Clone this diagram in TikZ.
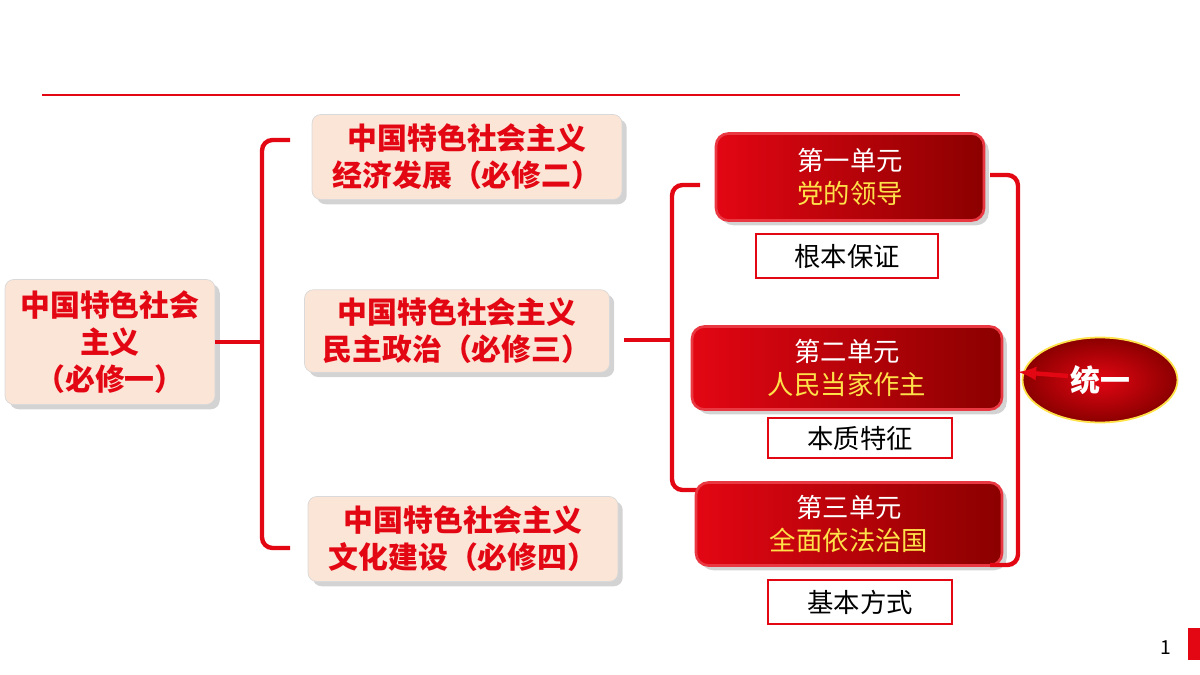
\documentclass[tikz,border=0pt]{standalone}
\usepackage{fontspec}
\setmainfont{Noto Sans CJK SC}
\usetikzlibrary{shadows,shapes.geometric}
\definecolor{peach}{HTML}{FBE5D6}
\definecolor{hired}{HTML}{E30613}
\definecolor{darkred}{HTML}{8B0000}
\definecolor{gold}{HTML}{FFE24A}
\tikzset{
  pinkbox/.style={draw=gray!30, fill=peach, rounded corners=5pt, drop shadow={opacity=.35}, text=hired, font=\bfseries\fontsize{17}{21}\selectfont, align=center},
  unitbox/.style={draw=hired!80, line width=1.5pt, left color=hired, right color=darkred, rounded corners=7pt, drop shadow={opacity=.35}, align=center, font=\fontsize{15}{19}\selectfont},
  tagbox/.style={draw=hired, line width=1pt, fill=white, font=\fontsize{15}{19}\selectfont, text=black},
  brace/.style={draw=hired, line width=2.5pt, rounded corners=6pt}
}
\begin{document}
\begin{tikzpicture}[x=0.02cm,y=-0.02cm]
\useasboundingbox (0,0) rectangle (1200,675);
\draw[hired, line width=1pt] (42,95) -- (960,95);
\fill[hired] (1188,628) rectangle (1200,660);
\node (page) at (1166,648) {\fontsize{11}{13}\selectfont 1};

\node[pinkbox, minimum width=4.2cm, minimum height=2.5cm] (mod1) at (110,342) {中国特色社会\\主义\\（必修一）};
\node[pinkbox, minimum width=6.2cm, minimum height=1.7cm] (mod2) at (467,157) {中国特色社会主义\\经济发展（必修二）};
\node[pinkbox, minimum width=6.1cm, minimum height=1.65cm] (mod3) at (457,331) {中国特色社会主义\\民主政治（必修三）};
\node[pinkbox, minimum width=6.2cm, minimum height=1.7cm] (mod4) at (463,539) {中国特色社会主义\\文化建设（必修四）};

\draw[brace] (290,140) -- (262,140) -- (262,548) -- (290,548);
\draw[hired, line width=2.5pt] (mod1.east) -- (262,342);
\draw[brace] (700,185) -- (672,185) -- (672,490) -- (700,490);
\draw[hired, line width=2.5pt] (624,340) -- (672,340);

\node[unitbox, minimum width=5.36cm, minimum height=1.74cm] (unit1) at (850,177) {\color{white}第一单元\\\color{gold}党的领导};
\node[unitbox, minimum width=6.2cm, minimum height=1.66cm] (unit2) at (847,368) {\color{white}第二单元\\\color{gold}人民当家作主};
\node[unitbox, minimum width=6.12cm, minimum height=1.66cm] (unit3) at (849,524) {\color{white}第三单元\\\color{gold}全面依法治国};

\node[tagbox, minimum width=3.64cm, minimum height=0.88cm] (tag1) at (847,256) {根本保证};
\node[tagbox, minimum width=3.68cm, minimum height=0.8cm] (tag2) at (860,438) {本质特征};
\node[tagbox, minimum width=3.68cm, minimum height=0.88cm] (tag3) at (860,602) {基本方式};

\draw[brace] (990,175) -- (1018,175) -- (1018,565) -- (990,565);
\node[ellipse, draw=gold, line width=1pt, inner color=hired, outer color=darkred, minimum width=3.1cm, minimum height=1.7cm, text=white, font=\bfseries\fontsize{17}{21}\selectfont] (unify) at (1100,380) {统一};
\draw[hired, line width=2.5pt, -latex] (1068,376) -- (1018,372);
\end{tikzpicture}
\end{document}
